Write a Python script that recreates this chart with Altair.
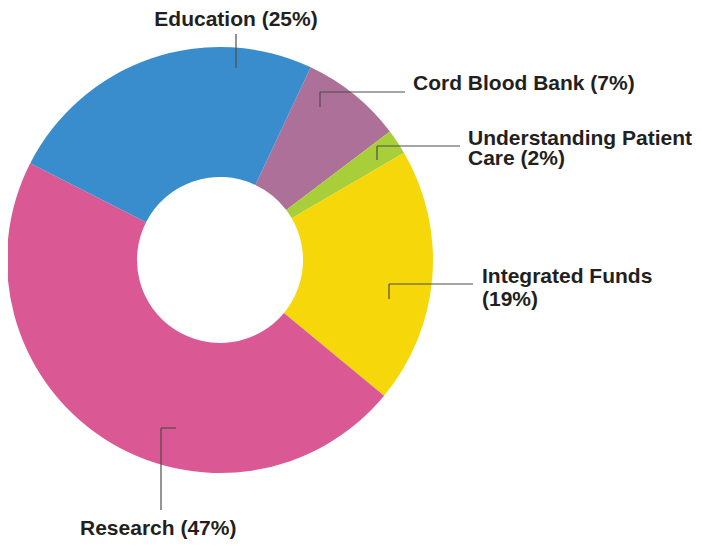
import math
import altair as alt
import pandas as pd

# ---- data ----
categories = ["Cord Blood Bank", "Understanding Patient Care", "Integrated Funds", "Research", "Education"]
values = [7.7, 1.9, 19.4, 46.5, 24.5]
colors = ["#ad7099", "#a8cf3a", "#f5d70a", "#da5893", "#3a8dcd"]

# label lines (text shown next to the donut)
label_lines = ["Education (25%)", "Cord Blood Bank (7%)", "Understanding Patient", "Care (2%)",
               "Integrated Funds", "(19%)", "Research (47%)"]

# ---- annotation layout (page pixel coordinates) ----
label_x = [236, 413, 468, 468, 482, 482, 80]
label_y = [26, 90, 145, 165, 283, 306, 535]
label_align = ["center", "left", "left", "left", "left", "left", "left"]

seg_x1 = [236, 320, 320, 377, 377, 389, 389, 161, 161]
seg_y1 = [34, 92, 92, 146, 146, 284, 284, 428, 428]
seg_x2 = [236, 320, 405, 377, 460, 389, 473, 176, 161]
seg_y2 = [68, 107, 92, 160, 146, 299, 284, 428, 510]

W, H = 686, 531
start = math.radians(25.2)

pie_df = pd.DataFrame({"category": categories, "value": values,
                       "order": list(range(len(categories)))})

donut = alt.Chart(pie_df).mark_arc(outerRadius=213, innerRadius=83).encode(
    theta=alt.Theta("value:Q", stack=True,
                    scale=alt.Scale(type="linear", range=[start, start + 2 * math.pi])),
    order=alt.Order("order:Q"),
    color=alt.Color("category:N", scale=alt.Scale(domain=categories, range=colors), legend=None),
    x=alt.value(220 - 8),
    y=alt.value(260 - 8),
)

xs = alt.Scale(domain=[8, 8 + W], range=[0, W])
ys = alt.Scale(domain=[8, 8 + H], range=[0, H])

seg_df = pd.DataFrame({"x": seg_x1, "y": seg_y1, "x2": seg_x2, "y2": seg_y2})
leaders = alt.Chart(seg_df).mark_rule(color="#4d4d4d", strokeWidth=1.2).encode(
    x=alt.X("x:Q", scale=xs, axis=None),
    y=alt.Y("y:Q", scale=ys, axis=None),
    x2="x2:Q",
    y2="y2:Q",
)

lab_df = pd.DataFrame({"text": label_lines, "x": label_x, "y": label_y, "align": label_align})
text_layers = []
for al in ["center", "left"]:
    t = alt.Chart(lab_df[lab_df["align"] == al]).mark_text(
        align=al, baseline="alphabetic", font="Liberation Sans", fontWeight="bold",
        fontSize=21, color="#231f20"
    ).encode(
        x=alt.X("x:Q", scale=xs, axis=None),
        y=alt.Y("y:Q", scale=ys, axis=None),
        text="text:N",
    )
    text_layers.append(t)

chart = alt.layer(donut, leaders, *text_layers).properties(
    width=W, height=H, padding=0, autosize="none", background="white"
).configure_view(stroke=None, strokeWidth=0)

chart.save("out.html", embed_options={"renderer": "svg", "actions": False})
